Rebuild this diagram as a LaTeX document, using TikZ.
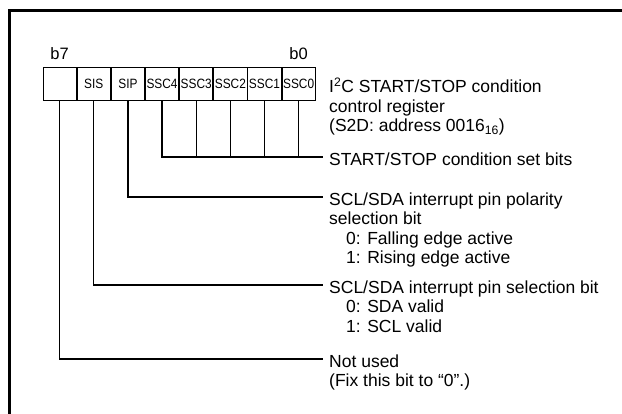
\documentclass[tikz,border=0pt]{standalone}
\usepackage{fontspec}
\setmainfont{Liberation Sans}
\newfontfamily\cellfont[FakeStretch=0.88]{Liberation Sans}
\usepackage{tikz}
\usetikzlibrary{positioning}
\tikzset{
    % Register bit cell
    bitcell/.style={
        draw,
        line width=0.9pt,
        minimum width=33.25pt,
        minimum height=33pt,
        inner sep=0pt,
        font=\cellfont\fontsize{13.5}{14}\selectfont,
    },
    % Bit number above the register
    bitnum/.style={
        font=\fontsize{16.5}{18}\selectfont,
        inner sep=0pt,
    },
    % Description text at the end of a wire
    desc/.style={
        font=\fontsize{17.5}{19.4}\selectfont,
        align=left,
        anchor=north west,
        inner sep=0pt,
    },
    % Wire from a bit to its description
    wire/.style={
        line width=1.2pt,
    },
}

\begin{document}
\begin{tikzpicture}[x=1pt, y=-1pt]
    \useasboundingbox (0,0) rectangle (622,414);
    \draw [line width=3pt] (9.5,414) -- (9.5,10.8) -- (622,10.8);

    \node (c7) [bitcell] at (59.6,83.5) {};
    \node (c6) [bitcell, right=0pt of c7] {SIS};
    \node (c5) [bitcell, right=0pt of c6] {SIP};
    \node (c4) [bitcell, right=0pt of c5] {SSC4};
    \node (c3) [bitcell, right=0pt of c4] {SSC3};
    \node (c2) [bitcell, right=0pt of c3] {SSC2};
    \node (c1) [bitcell, right=0pt of c2] {SSC1};
    \node (c0) [bitcell, right=0pt of c1] {SSC0};

    \node (b7) [bitnum, above=7pt of c7] {b7};
    \node (b0) [bitnum, above=7pt of c0] {b0};

    \node (title) [desc] at (329,77.7) {I\textsuperscript{2}C START/STOP condition\\control register\\(S2D: address 0016\textsubscript{16})};

    \coordinate (sscEnd) at (323,157);
    \coordinate (sipEnd) at (323,197);
    \coordinate (sisEnd) at (323,285);
    \coordinate (unusedEnd) at (323,359);

    \draw [wire] (c4.south) |- (sscEnd);
    \draw [wire] (c3.south) -- (c3.south |- sscEnd);
    \draw [wire] (c2.south) -- (c2.south |- sscEnd);
    \draw [wire] (c1.south) -- (c1.south |- sscEnd);
    \draw [wire] (c0.south) -- (c0.south |- sscEnd);
    \draw [wire] (c5.south) |- (sipEnd);
    \draw [wire] (c6.south) |- (sisEnd);
    \draw [wire] (c7.south) |- (unusedEnd);

    \node (sscTxt) [desc] at ([shift={(6pt,4.6pt)}]sscEnd) {START/STOP condition set bits};
    \node (sipTxt) [desc] at ([shift={(6pt,4.6pt)}]sipEnd) {SCL/SDA interrupt pin polarity\\selection bit\\\hspace*{17pt}0: Falling edge active\\\hspace*{17pt}1: Rising edge active};
    \node (sisTxt) [desc] at ([shift={(6pt,4.6pt)}]sisEnd) {SCL/SDA interrupt pin selection bit\\\hspace*{17pt}0: SDA valid\\\hspace*{17pt}1: SCL valid};
    \node (unusedTxt) [desc] at ([shift={(6pt,4.6pt)}]unusedEnd) {Not used\\(Fix this bit to “0”.)};
\end{tikzpicture}
\end{document}
